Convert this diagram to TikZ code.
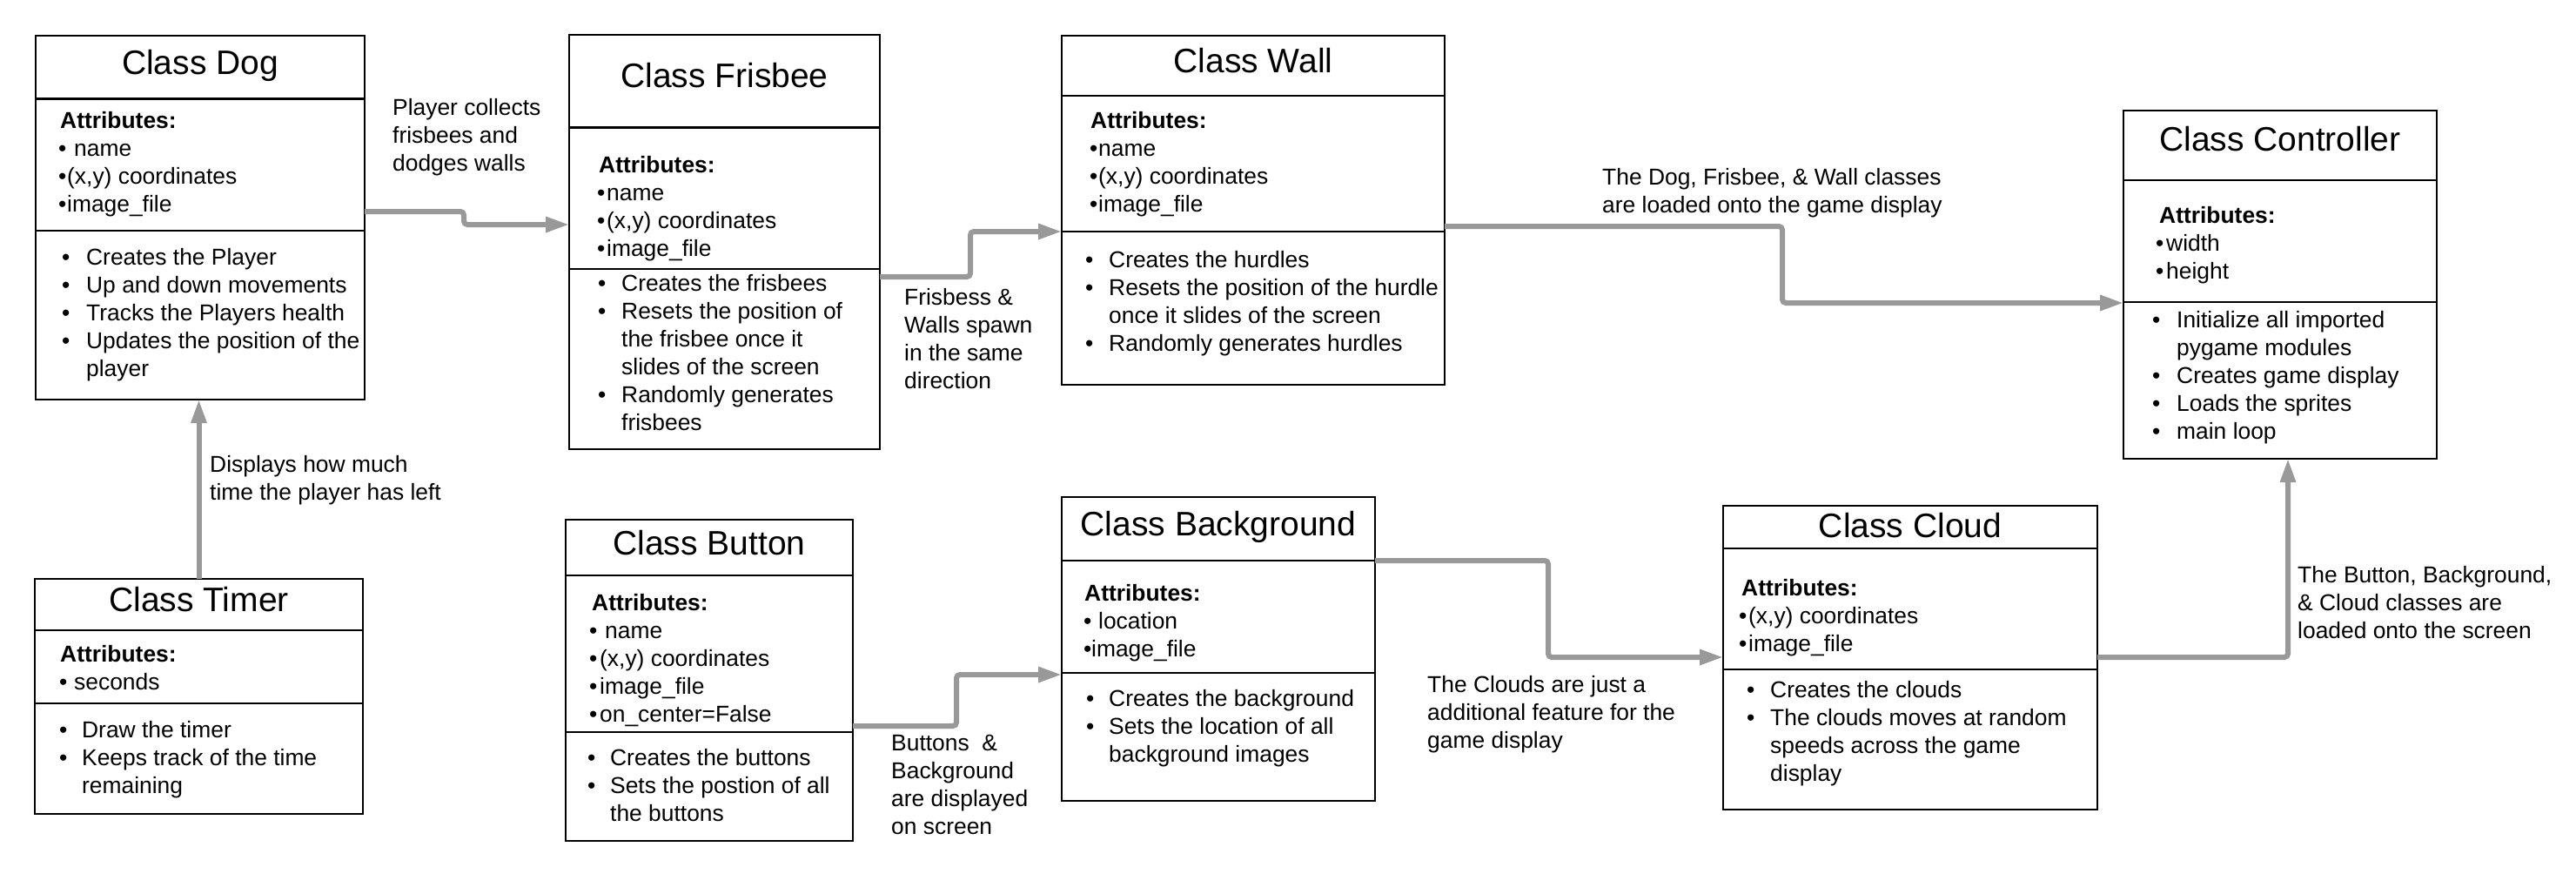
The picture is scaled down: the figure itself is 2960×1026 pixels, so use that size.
\documentclass[tikz,border=0pt]{standalone}
\usepackage{fontspec}
\setmainfont{Liberation Sans}
\usetikzlibrary{arrows.meta}
\definecolor{arrowgray}{RGB}{153,153,153}
\newcommand{\itm}[2]{\makebox[#1][l]{•}#2}
\newcommand{\cnt}[2]{\hspace*{#1}#2}
\tikzset{
  box/.style={draw=black, line width=1.8pt, inner sep=0pt, outer sep=0pt, anchor=north west},
  sepline/.style={draw=black, line width=1.8pt},
  thicksep/.style={draw=black, line width=3pt},
  body/.style={font=\fontsize{26.4}{32}\selectfont, align=left, inner sep=0pt, anchor=north west},
  ttl/.style={font=\fontsize{39}{46}\selectfont, inner sep=0pt, anchor=base},
  conn/.style={draw=arrowgray, line width=6pt, rounded corners=4pt, -{Triangle[length=27pt,width=17pt]}},
}
\begin{document}
\begin{tikzpicture}[x=1pt,y=-1pt]
\fill[white] (0,0) rectangle (2960,1026);
\useasboundingbox (0,0) rectangle (2960,1026);

% ---------- boxes ----------
\node[box, minimum width=378pt, minimum height=418pt] (dog) at (41,41) {};
\node[box, minimum width=357pt, minimum height=476pt] (frisbee) at (654,40) {};
\node[box, minimum width=440pt, minimum height=401pt] (wall) at (1220,41) {};
\node[box, minimum width=360pt, minimum height=400pt] (controller) at (2440,127) {};
\node[box, minimum width=377pt, minimum height=270pt] (timer) at (40,665) {};
\node[box, minimum width=330pt, minimum height=369pt] (button) at (650,597) {};
\node[box, minimum width=360pt, minimum height=349pt] (background) at (1220,571) {};
\node[box, minimum width=430pt, minimum height=349pt] (cloud) at (1980,581) {};

% ---------- separators ----------
\draw[thicksep] (dog.west |- 0,113) -- (dog.east |- 0,113);
\draw[sepline] (dog.west |- 0,265) -- (dog.east |- 0,265);
\draw[thicksep] (frisbee.west |- 0,146) -- (frisbee.east |- 0,146);
\draw[sepline] (frisbee.west |- 0,309) -- (frisbee.east |- 0,309);
\draw[sepline] (wall.west |- 0,110) -- (wall.east |- 0,110);
\draw[sepline] (wall.west |- 0,266) -- (wall.east |- 0,266);
\draw[sepline] (controller.west |- 0,207) -- (controller.east |- 0,207);
\draw[sepline] (controller.west |- 0,347) -- (controller.east |- 0,347);
\draw[sepline] (timer.west |- 0,724) -- (timer.east |- 0,724);
\draw[sepline] (timer.west |- 0,808) -- (timer.east |- 0,808);
\draw[sepline] (button.west |- 0,661) -- (button.east |- 0,661);
\draw[sepline] (button.west |- 0,841) -- (button.east |- 0,841);
\draw[sepline] (background.west |- 0,644) -- (background.east |- 0,644);
\draw[sepline] (background.west |- 0,773) -- (background.east |- 0,773);
\draw[sepline] (cloud.west |- 0,630) -- (cloud.east |- 0,630);
\draw[sepline] (cloud.west |- 0,769) -- (cloud.east |- 0,769);

% ---------- titles ----------
\node[ttl] (dogT) at (230,85) {Class Dog};
\node[ttl] (frisbeeT) at (832.5,100) {Class Frisbee};
\node[ttl] (wallT) at (1440,83) {Class Wall};
\node[ttl] (controllerT) at (2620,173) {Class Controller};
\node[ttl] (timerT) at (228.5,702) {Class Timer};
\node[ttl] (buttonT) at (815,637) {Class Button};
\node[ttl] (backgroundT) at (1400,615) {Class Background};
\node[ttl] (cloudT) at (2195,617) {Class Cloud};

% ---------- attributes ----------
\node[body] (dogA) at (67,124.6) {\strut\hspace*{2pt}\textbf{Attributes:}\\
  \itm{18pt}{name}\\ \itm{10pt}{(x,y) coordinates}\\ \itm{10pt}{image\_file}};
\node[body] (frisbeeA) at (686,175.6) {\strut\hspace*{2pt}\textbf{Attributes:}\\
  \itm{11pt}{name}\\ \itm{11pt}{(x,y) coordinates}\\ \itm{11pt}{image\_file}};
\node[body] (wallA) at (1252,124.6) {\strut\hspace*{1pt}\textbf{Attributes:}\\
  \itm{10pt}{name}\\ \itm{10pt}{(x,y) coordinates}\\ \itm{10pt}{image\_file}};
\node[body] (controllerA) at (2477,233.6) {\strut\hspace*{4pt}\textbf{Attributes:}\\
  \itm{12pt}{width}\\ \itm{12pt}{height}};
\node[body] (timerA) at (68,737.6) {\strut\hspace*{1pt}\textbf{Attributes:}\\
  \itm{17pt}{seconds}};
\node[body] (buttonA) at (677,678.6) {\strut\hspace*{3pt}\textbf{Attributes:}\\
  \itm{18pt}{name}\\ \itm{12pt}{(x,y) coordinates}\\ \itm{12pt}{image\_file}\\ \itm{12pt}{on\_center=False}};
\node[body] (backgroundA) at (1245,667.6) {\strut\hspace*{1pt}\textbf{Attributes:}\\
  \itm{17pt}{location}\\ \itm{9pt}{image\_file}};
\node[body] (cloudA) at (1998,661.6) {\strut\hspace*{3pt}\textbf{Attributes:}\\
  \itm{11pt}{(x,y) coordinates}\\ \itm{11pt}{image\_file}};

% ---------- methods ----------
\node[body] (dogM) at (71,281.6) {\strut\itm{28pt}{Creates the Player}\\
  \itm{28pt}{Up and down movements}\\ \itm{28pt}{Tracks the Players health}\\
  \itm{28pt}{Updates the position of the}\\ \cnt{28pt}{player}};
\node[body] (frisbeeM) at (687,311.6) {\strut\itm{27pt}{Creates the frisbees}\\
  \itm{27pt}{Resets the position of}\\ \cnt{27pt}{the frisbee once it}\\
  \cnt{27pt}{slides of the screen}\\ \itm{27pt}{Randomly generates}\\ \cnt{27pt}{frisbees}};
\node[body] (wallM) at (1247,284.6) {\strut\itm{27pt}{Creates the hurdles}\\
  \itm{27pt}{Resets the position of the hurdle}\\ \cnt{27pt}{once it slides of the screen}\\
  \itm{27pt}{Randomly generates hurdles}};
\node[body] (controllerM) at (2473,353.6) {\strut\itm{28pt}{Initialize all imported}\\
  \cnt{28pt}{pygame modules}\\ \itm{28pt}{Creates game display}\\
  \itm{28pt}{Loads the sprites}\\ \itm{28pt}{main loop}};
\node[body] (timerM) at (68,824.6) {\strut\itm{26pt}{Draw the timer}\\
  \itm{26pt}{Keeps track of the time}\\ \cnt{26pt}{remaining}};
\node[body] (buttonM) at (675,856.6) {\strut\itm{26pt}{Creates the buttons}\\
  \itm{26pt}{Sets the postion of all}\\ \cnt{26pt}{the buttons}};
\node[body] (backgroundM) at (1248,788.6) {\strut\itm{26pt}{Creates the background}\\
  \itm{26pt}{Sets the location of all}\\ \cnt{26pt}{background images}};
\node[body] (cloudM) at (2007,778.6) {\strut\itm{27pt}{Creates the clouds}\\
  \itm{27pt}{The clouds moves at random}\\ \cnt{27pt}{speeds across the game}\\
  \cnt{27pt}{display}};

% ---------- connector labels ----------
\node[body] (lblA) at (451,109.6) {\strut Player collects\\frisbees and\\dodges walls};
\node[body] (lblB) at (1039,327.6) {\strut Frisbess \&\\Walls spawn\\in the same\\direction};
\node[body] (lblC) at (1841,189.6) {\strut The Dog, Frisbee, \& Wall classes\\are loaded onto the game display};
\node[body] (lblD) at (241,519.6) {\strut Displays how much\\time the player has left};
\node[body] (lblE) at (1024,839.6) {\strut Buttons\ \ \&\\Background\\are displayed\\on screen};
\node[body] (lblF) at (1640,772.6) {\strut The Clouds are just a\\additional feature for the\\game display};
\node[body] (lblG) at (2640,646.6) {\strut The Button, Background,\\\& Cloud classes are\\loaded onto the screen};

% ---------- connectors ----------
\draw[conn] (timer.north) -- (timer.north |- dog.south);
\draw[conn] (dog.east |- 0,243) -- (533,243) -- (533,258) -- (frisbee.west |- 0,258);
\draw[conn] (frisbee.east |- 0,318) -- (1115,318) -- (1115,266) -- (wall.west |- 0,266);
\draw[conn] (wall.east |- 0,260) -- (2048,260) -- (2048,348) -- (controller.west |- 0,348);
\draw[conn] (button.east |- 0,834) -- (1099,834) -- (1099,775) -- (background.west |- 0,775);
\draw[conn] (background.east |- 0,644) -- (1779,644) -- (1779,755) -- (cloud.west |- 0,755);
\draw[conn] (cloud.east |- 0,755) -- (2629,755) -- (controller.south -| 2629,0);
\end{tikzpicture}
\end{document}
